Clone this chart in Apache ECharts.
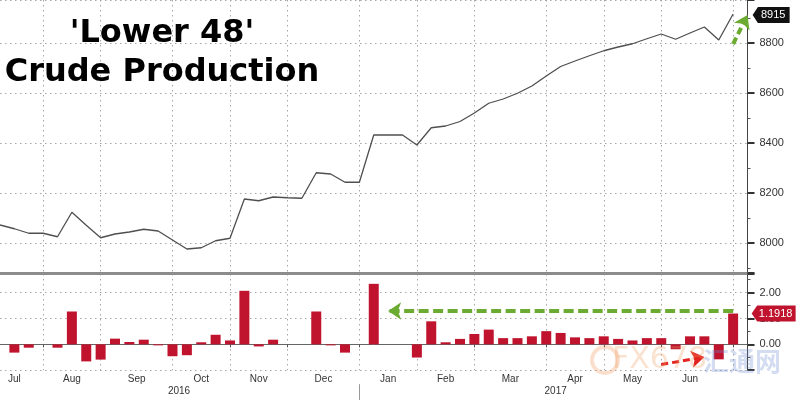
<!DOCTYPE html>
<html><head><meta charset="utf-8">
<script src="https://cdn.jsdelivr.net/npm/echarts@6/dist/echarts.min.js"></script>
<style>html,body{margin:0;padding:0;background:#fff}#c{width:800px;height:400px}</style>
</head><body><div id="c"></div>
<script>
// Weekly dates (week ending)
const weeks = ['2016-07-08','2016-07-15','2016-07-22','2016-07-29','2016-08-05','2016-08-12','2016-08-19','2016-08-26','2016-09-02','2016-09-09','2016-09-16','2016-09-23','2016-09-30','2016-10-07','2016-10-14','2016-10-21','2016-10-28','2016-11-04','2016-11-11','2016-11-18','2016-11-25','2016-12-02','2016-12-09','2016-12-16','2016-12-23','2016-12-30','2017-01-06','2017-01-13','2017-01-20','2017-01-27','2017-02-03','2017-02-10','2017-02-17','2017-02-24','2017-03-03','2017-03-10','2017-03-17','2017-03-24','2017-03-31','2017-04-07','2017-04-14','2017-04-21','2017-04-28','2017-05-05','2017-05-12','2017-05-19','2017-05-26','2017-06-02','2017-06-09','2017-06-16','2017-06-23','2017-06-30','2017-07-07'];
// 'Lower 48' crude production (kb/d)
const production = [8071,8056,8038,8038,8024,8122,8070,8020,8035,8043,8054,8047,8011,7975,7980,8008,8018,8175,8168,8183,8180,8178,8280,8275,8242,8242,8431,8431,8431,8391,8460,8467,8485,8519,8558,8575,8598,8627,8667,8705,8727,8748,8768,8783,8796,8816,8835,8814,8839,8863,8811,8915,null];
// week-over-week change (%)
const weeklyChange = [null,-0.32,-0.13,0,-0.13,1.27,-0.66,-0.59,0.22,0.09,0.18,-0.04,-0.46,-0.42,0.08,0.37,0.15,2.07,-0.08,0.18,0,0,1.27,-0.04,-0.32,0,2.34,0,0,-0.51,0.89,0.08,0.21,0.40,0.57,0.24,0.24,0.31,0.51,0.44,0.27,0.24,0.31,0.21,0.15,0.24,0.24,-0.19,0.31,0.31,-0.58,1.1918,null];
// month labels and the week they sit on
const monthNames = ['Jul','Aug','Sep','Oct','Nov','Dec','Jan','Feb','Mar','Apr','May','Jun'];
const monthWeeks = ['2016-07-15','2016-08-12','2016-09-09','2016-10-14','2016-11-11','2016-12-09','2017-01-13','2017-02-10','2017-03-10','2017-04-14','2017-05-12','2017-06-09'];
const yearNames = ['2016','2017'];
const yearWeeks = ['2016-09-30','2017-04-07'];
const yearBreakWeek = '2016-12-30';
const topTicks = ['8000','8200','8400','8600','8800'];
const lastProduction = 8915;
const lastChange = 1.1918;

// annotation arrows in data units: [weekIndex, value]
const greenTopArrow = [[50.59, 8795], [51.83, 8911]];
const greenLowArrow = [[51, 1.29], [26.86, 1.29]];
const redLowArrow = [[46.17, -0.78], [49.14, -0.49]];

const monthAt = {};
monthWeeks.forEach((w, j) => monthAt[w] = monthNames[j]);
const halfShift = {'Sep':1,'Dec':1,'Mar':1};
const yearAt = {};
yearWeeks.forEach((w, j) => yearAt[w] = yearNames[j]);
const isBoundary = (idx) => idx < weeks.length - 1 && weeks[idx].slice(5,7) !== weeks[idx+1].slice(5,7);

const dotted = {color: '#a6a6a6', width: 1, type: [1.5, 3.5]};
const lblFont = 'Liberation Sans';
const GREEN = '#6cab32', RED_ARROW = '#e3231f';

function arrow(pts, color, width, dash) {
  return [
    {coord: pts[0], symbol: 'none', lineStyle: {color: color, width: width, type: dash}},
    {coord: pts[1], symbol: 'arrow', symbolSize: 13, itemStyle: {color: color}}
  ];
}

const chart = echarts.init(document.getElementById('c'), null, {renderer: 'canvas'});
chart.setOption({
  animation: false,
  backgroundColor: '#fff',
  grid: [
    {left: -6.5, top: 0, width: 754, height: 273},
    {left: -6.5, top: 274, width: 754, height: 96.2}
  ],
  xAxis: [
    {type: 'category', gridIndex: 0, data: weeks, boundaryGap: false,
     axisLine: {show: true, lineStyle: {color: '#8c8c8c', width: 3}},
     axisTick: {show: false}, axisLabel: {show: false},
     splitLine: {show: true, interval: isBoundary, lineStyle: dotted}},
    {type: 'category', gridIndex: 1, data: weeks, boundaryGap: false,
     axisLine: {show: true, lineStyle: {color: '#666', width: 1}},
     axisTick: {show: true, interval: isBoundary, length: 3, lineStyle: {color: '#555'}},
     axisLabel: {show: true, interval: (i, v) => monthAt.hasOwnProperty(v), margin: 4,
       fontSize: 10, color: '#333', fontFamily: lblFont,
       formatter: (v) => halfShift[monthAt[v]] ? '{h|' + monthAt[v] + '}' : monthAt[v],
       rich: {h: {fontSize: 10, color: '#333', fontFamily: lblFont, padding: [0, 0, 0, 14.5]}}},
     splitLine: {show: true, interval: isBoundary, lineStyle: dotted}},
    {type: 'category', gridIndex: 1, data: weeks, boundaryGap: false, position: 'bottom', offset: 14,
     axisLine: {show: false},
     axisTick: {show: true, interval: (i, v) => v === yearBreakWeek, length: 16, lineStyle: {color: '#999'}},
     axisLabel: {show: true, interval: (i, v) => yearAt.hasOwnProperty(v), margin: 2,
       fontSize: 10, color: '#333', fontFamily: lblFont,
       formatter: (v) => yearAt[v] === '2016' ? '{a|2016}' : '{b|2017}',
       rich: {a: {fontSize: 10, color: '#333', fontFamily: lblFont, padding: [0, 0, 0, 13]},
              b: {fontSize: 10, color: '#333', fontFamily: lblFont, padding: [0, 10, 0, 0]}}},
     splitLine: {show: false}}
  ],
  yAxis: [
    {type: 'value', gridIndex: 0, position: 'right', min: 7879, max: 8971, splitNumber: 5,
     axisLine: {show: true, lineStyle: {color: '#444', width: 1}},
     axisTick: {show: true, length: 7, lineStyle: {color: '#333', width: 2}},
     minorTick: {show: true, splitNumber: 2, length: 3, lineStyle: {color: '#555'}},
     axisLabel: {margin: 12, fontSize: 11, color: '#333', fontFamily: lblFont,
       formatter: (v) => topTicks.indexOf(String(v)) >= 0 ? String(v) : ''},
     splitLine: {show: true, lineStyle: dotted}},
    {type: 'value', gridIndex: 1, position: 'right', min: -1, max: 2.72, interval: 1,
     axisLine: {show: true, lineStyle: {color: '#444', width: 1}},
     axisTick: {show: true, length: 7, lineStyle: {color: '#333', width: 2}},
     minorTick: {show: true, splitNumber: 2, length: 3, lineStyle: {color: '#555'}},
     axisLabel: {margin: 12, fontSize: 11, color: '#333', fontFamily: lblFont,
       formatter: (v) => (v === 0 || v === 1 || v === 2) ? v.toFixed(2) : ''},
     splitLine: {show: true, lineStyle: dotted}}
  ],
  series: [
    {type: 'line', xAxisIndex: 0, yAxisIndex: 0, data: production, symbol: 'none',
     lineStyle: {color: '#4f4f4f', width: 1.3}, z: 3,
     markPoint: {silent: true, symbol: 'path://M0,8L6,0L42,0L42,16L6,16Z', symbolSize: [37, 16],
       symbolKeepAspect: false, symbolOffset: [38, 1],
       itemStyle: {color: '#111'},
       label: {show: true, position: 'inside', offset: [2, 0], color: '#fff', fontSize: 11, fontFamily: lblFont,
         formatter: String(lastProduction)},
       data: [{coord: [51, lastProduction], value: lastProduction}]},
     markLine: {silent: true, label: {show: false}, emphasis: {disabled: true},
       data: [arrow(greenTopArrow, GREEN, 4, [7, 4])]}},
    {type: 'bar', xAxisIndex: 1, yAxisIndex: 1, data: weeklyChange, barWidth: 10,
     itemStyle: {color: '#c0142e'}, z: 3,
     markPoint: {silent: true, symbol: 'path://M0,8L6,0L48,0L48,16L6,16Z', symbolSize: [44, 16],
       symbolKeepAspect: false, symbolOffset: [40.5, 0],
       itemStyle: {color: '#c0142e'},
       label: {show: true, position: 'inside', offset: [2, 0], color: '#fff', fontSize: 11, fontFamily: lblFont,
         formatter: String(lastChange)},
       data: [{coord: [51, lastChange], value: lastChange}]},
     markLine: {silent: true, label: {show: false}, emphasis: {disabled: true},
       data: [
         arrow(greenLowArrow, GREEN, 4, [10, 4.5]),
         arrow(redLowArrow, RED_ARROW, 3, [7, 4])
       ]}}
  ],
  graphic: [
    {type: 'text', x: 162, y: 14, z: 10,
     style: {text: "'Lower 48'\nCrude Production", align: 'center', textAlign: 'center',
       verticalAlign: 'top', textVerticalAlign: 'top', fill: '#000',
       font: 'bold 32px "DejaVu Sans"', lineHeight: 39}},
    {type: 'circle', shape: {cx: 605, cy: 360, r: 13}, z: 20,
     style: {fill: 'none', stroke: 'rgba(240,150,90,0.3)', lineWidth: 4}},
    {type: 'text', x: 612, y: 345, z: 20,
     style: {text: 'FX678', fill: 'rgba(240,160,100,0.3)', font: '30px "DejaVu Sans"'}},
    {type: 'text', x: 703, y: 348, z: 20,
     style: {text: '汇通网', fill: 'rgba(110,140,210,0.3)', font: 'bold 26px "Noto Sans CJK SC"'}}
  ]
});
</script></body></html>
